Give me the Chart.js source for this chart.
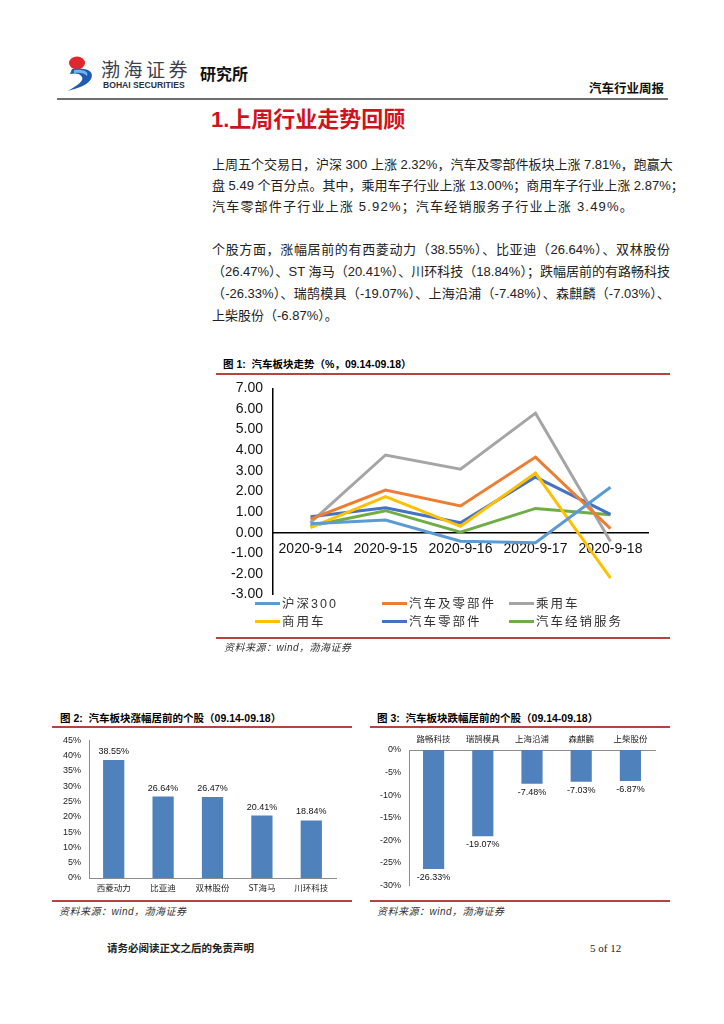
<!DOCTYPE html>
<html><head><meta charset="utf-8">
<script src="https://cdn.jsdelivr.net/npm/chart.js@4.4.0/dist/chart.umd.min.js"></script>
<style>
html,body{margin:0;padding:0;background:#fff;}
body{width:724px;height:1024px;position:relative;overflow:hidden;font-family:"Liberation Sans","Noto Sans CJK SC",sans-serif;color:#222;}
.abs{position:absolute;white-space:nowrap;}
.para{position:absolute;left:212px;width:458px;font-size:13px;line-height:20px;height:20px;text-align:justify;text-align-last:justify;white-space:nowrap;color:#222;}
.para.last{text-align-last:left;}
.redline{position:absolute;height:0;border-top:2px solid #b8423f;}
.ctitle{position:absolute;font-size:10.5px;font-weight:bold;line-height:14px;color:#000;white-space:nowrap;}
.src{position:absolute;font-size:10px;font-style:italic;line-height:14px;color:#333;white-space:nowrap;letter-spacing:0.5px;}
canvas{position:absolute;}
.leg{position:absolute;font-size:12.5px;line-height:16px;color:#333;white-space:nowrap;letter-spacing:2px;}
.leg i{display:inline-block;width:25px;height:0;border-top:3px solid;vertical-align:middle;margin-right:2px;position:relative;top:-1px;}
</style></head>
<body>
<!-- header -->
<svg class="abs" style="left:64px;top:54px" width="34" height="38" viewBox="0 0 34 38">
  <ellipse cx="13" cy="9" rx="8" ry="6.5" fill="#e3262c"/>
  <path d="M8 15 C22 13 31 17 27 25 C24 31 14 34 4 37 C14 31 20 27 18 23 C16 19 11 19 6 20 Z" fill="#1f5bb0"/>
  <path d="M10 16 C20 15 25 18 23 22 C21 19 15 18 10 19 Z" fill="#6fb6e8"/>
</svg>
<div class="abs" style="left:101px;top:56px;font-size:19px;letter-spacing:3.5px;line-height:26px;color:#3b3f4e;font-family:'Noto Sans CJK SC';">渤海证券</div>
<div class="abs" style="left:103px;top:80px;font-size:8.6px;font-weight:bold;line-height:11px;color:#2d3140;">BOHAI SECURITIES</div>
<div class="abs" style="left:200px;top:65px;font-size:16px;font-weight:bold;line-height:20px;color:#111;">研究所</div>
<div class="abs" style="left:589px;top:81px;font-size:12.5px;font-weight:bold;line-height:16px;color:#111;">汽车行业周报</div>
<div class="abs" style="left:57px;top:98px;width:611px;height:0;border-top:2px solid #6e6e6e;"></div>

<div class="abs" style="left:211px;top:106px;font-size:22px;font-weight:bold;line-height:28px;color:#d0121b;">1.上周行业走势回顾</div>

<div class="para" style="top:155px">上周五个交易日，沪深 300 上涨 2.32%，汽车及零部件板块上涨 7.81%，跑赢大</div>
<div class="para" style="top:176px">盘 5.49 个百分点。其中，乘用车子行业上涨 13.00%；商用车子行业上涨 2.87%；</div>
<div class="para last" style="top:197px;letter-spacing:1.2px">汽车零部件子行业上涨 5.92%；汽车经销服务子行业上涨 3.49%。</div>
<div class="para" style="top:240px">个股方面，涨幅居前的有西菱动力（38.55%）、比亚迪（26.64%）、双林股份</div>
<div class="para" style="top:262px">（26.47%）、ST 海马（20.41%）、川环科技（18.84%）；跌幅居前的有路畅科技</div>
<div class="para" style="top:284px">（-26.33%）、瑞鹄模具（-19.07%）、上海沿浦（-7.48%）、森麒麟（-7.03%）、</div>
<div class="para last" style="top:306px">上柴股份（-6.87%）。</div>

<!-- chart 1 -->
<div class="ctitle" style="left:223px;top:357px">图 1:&nbsp; 汽车板块走势（%，09.14-09.18）</div>
<div class="redline" style="left:216px;top:373px;width:454px"></div>
<canvas id="c1" width="454" height="243" style="left:216px;top:370px;width:454px;height:243px"></canvas>
<div id="legend1"></div>
<div class="redline" style="left:216px;top:637px;width:454px"></div>
<div class="src" style="left:224px;top:641px">资料来源：wind，渤海证券</div>

<!-- chart 2 -->
<div class="ctitle" style="left:60px;top:711px">图 2:&nbsp; 汽车板块涨幅居前的个股（09.14-09.18）</div>
<div class="redline" style="left:52px;top:726px;width:300px"></div>
<canvas id="c2" width="300" height="170" style="left:52px;top:727px;width:300px;height:170px"></canvas>
<div class="redline" style="left:52px;top:900px;width:300px"></div>
<div class="src" style="left:59px;top:905px">资料来源：wind，渤海证券</div>

<!-- chart 3 -->
<div class="ctitle" style="left:377px;top:711px">图 3:&nbsp; 汽车板块跌幅居前的个股（09.14-09.18）</div>
<div class="redline" style="left:370px;top:726px;width:300px"></div>
<canvas id="c3" width="300" height="170" style="left:370px;top:729px;width:300px;height:170px"></canvas>
<div class="redline" style="left:370px;top:900px;width:300px"></div>
<div class="src" style="left:377px;top:905px">资料来源：wind，渤海证券</div>

<!-- footer -->
<div class="abs" style="left:107px;top:941px;font-size:10.5px;line-height:14px;color:#222;font-weight:bold;">请务必阅读正文之后的免责声明</div>
<div class="abs" style="left:590px;top:941px;font-size:11px;line-height:14px;color:#222;font-family:'Liberation Serif',serif;">5 of 12</div>

<script>
// ---- data ----
const dates = ['2020-9-14','2020-9-15','2020-9-16','2020-9-17','2020-9-18'];
const seriesNames = ['沪深300','汽车及零部件','乘用车','商用车','汽车零部件','汽车经销服务'];
const seriesColors = ['#5B9BD5','#ED7D31','#A5A5A5','#FFC000','#4472C4','#70AD47'];
const hs300      = [0.44, 0.62, -0.41, -0.48, 2.21];
const autoParts  = [0.66, 2.07, 1.30, 3.67, 0.20];
const passenger  = [0.49, 3.77, 3.08, 5.80, -0.43];
const commercial = [0.25, 1.75, 0.31, 2.89, -2.20];
const components = [0.77, 1.21, 0.48, 2.70, 0.89];
const dealers    = [0.33, 1.07, 0.03, 1.18, 0.87];
const lineSeries = [hs300, autoParts, passenger, commercial, components, dealers];
const lineTicks = [-3,-2,-1,0,1,2,3,4,5,6,7];

const gainStocks = ['西菱动力','比亚迪','双林股份','ST海马','川环科技'];
const gainValues = [38.55, 26.64, 26.47, 20.41, 18.84];
const gainTicks = [0,5,10,15,20,25,30,35,40,45];

const lossStocks = ['路畅科技','瑞鹄模具','上海沿浦','森麒麟','上柴股份'];
const lossValues = [-26.33, -19.07, -7.48, -7.03, -6.87];
const lossTicks = [0,-5,-10,-15,-20,-25,-30];

// ---- chart 1 ----
const c1 = new Chart(document.getElementById('c1'), {
  type: 'line',
  data: {
    labels: dates,
    datasets: lineSeries.map((d, i) => ({
      label: seriesNames[i], data: d, borderColor: seriesColors[i], backgroundColor: seriesColors[i],
      borderWidth: 3, pointRadius: 0, tension: 0, fill: false
    }))
  },
  options: {
    responsive: false, animation: false,
    layout: { padding: { top: 2, bottom: 0, left: 0, right: 22 } },
    plugins: { legend: { display: false }, tooltip: { enabled: false } },
    scales: {
      x: {
        offset: true, position: { y: 0 },
        grid: { display: false, drawTicks: false },
        border: { display: true, color: '#000', width: 1.5 },
        ticks: { font: { family: 'Liberation Sans', size: 14 }, color: '#111', padding: 8, maxRotation: 0, autoSkip: false }
      },
      y: {
        min: -3, max: 7,
        afterFit: s => { s.width = 57; },
        afterBuildTicks: s => { s.ticks = lineTicks.map(v => ({ value: v })); },
        grid: { display: false, drawTicks: false },
        border: { display: true, color: '#000', width: 1.5 },
        ticks: { font: { family: 'Liberation Sans', size: 14 }, color: '#111', padding: 10, callback: v => v.toFixed(2) }
      }
    }
  }
});

// legend for chart 1 (HTML, built from arrays)
(function(){
  const cols = [255, 382, 509], rows = [596, 614];
  const host = document.getElementById('legend1');
  seriesNames.forEach((name, k) => {
    const d = document.createElement('div');
    d.className = 'leg';
    d.style.left = cols[k % 3] + 'px';
    d.style.top = rows[Math.floor(k / 3)] + 'px';
    d.innerHTML = '<i style="border-color:' + seriesColors[k] + '"></i>' + name;
    host.appendChild(d);
  });
})();

// bar value labels plugin
const barLabels = {
  id: 'barLabels',
  afterDatasetsDraw(chart) {
    const ctx = chart.ctx;
    const meta = chart.getDatasetMeta(0);
    const vals = chart.data.datasets[0].data;
    ctx.save();
    ctx.font = '9px "Liberation Sans"';
    ctx.fillStyle = '#111';
    ctx.textAlign = 'center';
    meta.data.forEach((el, i) => {
      const v = vals[i];
      if (v >= 0) { ctx.textBaseline = 'bottom'; ctx.fillText(v.toFixed(2) + '%', el.x, el.y - 4); }
      else { ctx.textBaseline = 'top'; ctx.fillText(v.toFixed(2) + '%', el.x, el.y + 4); }
    });
    ctx.restore();
  }
};

const barColor = '#4F81BD';
const axisGray = '#8c8c8c';

// ---- chart 2 ----
new Chart(document.getElementById('c2'), {
  type: 'bar',
  data: { labels: gainStocks, datasets: [{ data: gainValues, backgroundColor: barColor, barPercentage: 0.43, categoryPercentage: 1 }] },
  plugins: [barLabels],
  options: {
    responsive: false, animation: false,
    layout: { padding: { top: 8, right: 16, left: 0, bottom: 0 } },
    plugins: { legend: { display: false }, tooltip: { enabled: false } },
    scales: {
      x: {
        grid: { display: false, drawTicks: false },
        border: { display: true, color: axisGray, width: 1 },
        afterFit: s => { s.height = 19; },
        ticks: { font: { family: 'Noto Sans CJK SC', size: 8.5 }, color: '#222', padding: 5, maxRotation: 0, autoSkip: false }
      },
      y: {
        min: 0, max: 45,
        afterFit: s => { s.width = 37; },
        afterBuildTicks: s => { s.ticks = gainTicks.map(v => ({ value: v })); },
        grid: { display: false, drawTicks: false },
        border: { display: true, color: axisGray, width: 1 },
        ticks: { font: { family: 'Liberation Sans', size: 9 }, color: '#222', padding: 8, callback: v => v + '%' }
      }
    }
  }
});

// ---- chart 3 ----
new Chart(document.getElementById('c3'), {
  type: 'bar',
  data: { labels: lossStocks, datasets: [{ data: lossValues, backgroundColor: barColor, barPercentage: 0.43, categoryPercentage: 1 }] },
  plugins: [barLabels],
  options: {
    responsive: false, animation: false,
    layout: { padding: { top: 0, right: 15, left: 0, bottom: 6 } },
    plugins: { legend: { display: false }, tooltip: { enabled: false } },
    scales: {
      x: {
        position: 'top',
        grid: { display: false, drawTicks: false },
        border: { display: true, color: axisGray, width: 1 },
        afterFit: s => { s.height = 21; },
        ticks: { font: { family: 'Noto Sans CJK SC', size: 8.5 }, color: '#222', padding: 6, maxRotation: 0, autoSkip: false }
      },
      y: {
        min: -30, max: 0,
        afterFit: s => { s.width = 39; },
        afterBuildTicks: s => { s.ticks = lossTicks.map(v => ({ value: v })); },
        grid: { display: false, drawTicks: false },
        border: { display: true, color: axisGray, width: 1 },
        ticks: { font: { family: 'Liberation Sans', size: 9 }, color: '#222', padding: 8, callback: v => v + '%' }
      }
    }
  }
});
</script>
</body></html>
